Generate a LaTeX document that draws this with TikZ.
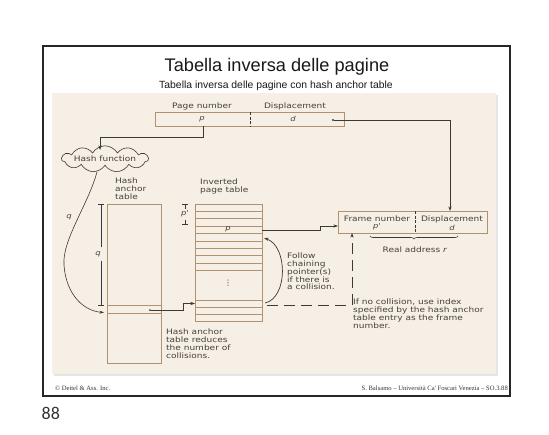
\documentclass[tikz,border=0pt]{standalone}
\usepackage{fontspec}
\setmainfont{Liberation Sans}
\newfontfamily\dg[FakeStretch=1.2]{DejaVu Sans}
\newfontfamily\ftr{Liberation Serif}
\newfontfamily\crl{Carlito}
\usetikzlibrary{shapes.symbols,decorations.pathreplacing,arrows.meta}
\definecolor{panel}{HTML}{F6EFE5}
\definecolor{tanc}{HTML}{B0926F}
\definecolor{dk}{HTML}{3E3934}
\definecolor{txt}{HTML}{45403B}
\begin{document}
\begin{tikzpicture}[x=1pt,y=-1pt,
  tanbox/.style={draw=tanc, line width=1pt, inner sep=0pt},
  tanline/.style={draw=tanc, line width=0.9pt},
  dline/.style={draw=dk, line width=0.6pt},
  arr/.style={dline, -{Stealth[length=4.5pt,width=3pt]}},
  lbl/.style={font=\dg\fontsize{7.5}{8}\selectfont, text=txt, inner sep=0pt},
  mlbl/.style={lbl, align=left, anchor=north west},
  var/.style={font=\dg\itshape\fontsize{7}{8}\selectfont, text=txt, inner sep=0pt},
  foot/.style={font=\ftr\fontsize{6.6}{8}\selectfont, text=black!80, inner sep=0pt},
]
\useasboundingbox (0,0) rectangle (549,434);
\fill[white] (0,0) rectangle (549,434);
% slide frame and panel
\draw[line width=1.4pt, draw=black!85] (43,46) rectangle (510,396);
\fill[black!10] (54,95) rectangle (498,376);
\fill[panel] (52,93) rectangle (496,374);
% titles
\node[font=\fontsize{18.2}{20}\selectfont, text=black!90, inner sep=0pt] (title) at (277,67) {Tabella inversa delle pagine};
\node[font=\fontsize{10.4}{12}\selectfont, text=black!90, inner sep=0pt] (sub) at (276,86) {Tabella inversa delle pagine con hash anchor table};
% virtual address box
\node[tanbox, minimum width=189pt, minimum height=14pt] (addr) at (249.5,119) {};
\draw[dline, dash pattern=on 3pt off 1.5pt] (250,112) -- (250,126);
\node[lbl] (pn) at (202,106) {Page number};
\node[lbl] (dp) at (295,106) {Displacement};
\node[var] (pv) at (202,119) {p};
\node[var] (dv) at (293,119) {d};
\node[circle, fill=dk, inner sep=0pt, minimum size=2.4pt] (dot) at (333,120) {};
% frame box
\node[tanbox, minimum width=149pt, minimum height=22pt] (fr) at (412.5,222) {};
\draw[dline, dash pattern=on 3pt off 1.5pt] (415,211) -- (415,233);
\node[lbl] (fn) at (377,219) {Frame number};
\node[var] (fp) at (377,227) {p'};
\node[lbl] (fd) at (452,219) {Displacement};
\node[var] (fdv) at (452,227.5) {d};
\coordinate (frin) at (450,211);
\draw[arr] (dot) -| (frin);
\coordinate (b1) at (370,236);
\coordinate (b2) at (458,236);
\draw[dk, line width=0.6pt, decorate, decoration={brace, mirror, amplitude=3pt}] (b1) -- (b2);
\node[lbl] (ra) at (415,250) {Real address \textit{r}};
% hash function
\node[cloud, cloud puffs=11, cloud puff arc=120, aspect=7, draw=dk, line width=0.6pt, inner xsep=0pt, inner ysep=0pt, lbl] (hf) at (105,159) {Hash function};
\coordinate (pb) at (203,126);
\coordinate (hft) at (100,150);
\draw[arr] (pb) -- (203,137) -| (hft);
% hash anchor table
\node[tanbox, minimum width=54pt, minimum height=159pt] (hat) at (134,283.5) {};
\draw[tanline] (107,305) -- (161,305);
\draw[tanline] (107,313) -- (161,313);
\node[mlbl] (hatl) at (115,177.5) {Hash\\anchor\\table};
% q dimension
\draw[dline] (101,204) -- (101,247);
\draw[dline] (101,261) -- (101,305);
\draw[dline] (98,204) -- (104,204);
\draw[dline] (98,305) -- (104,305);
\node[var] (q2) at (98,254) {q};
\node[var] (q1) at (69,217) {q};
\coordinate (hfb) at (97,172);
\coordinate (hate) at (104,312.5);
\draw[arr] (hfb) .. controls (88,205) and (62,240) .. (64,265) .. controls (66,295) and (84,311) .. (hate);
% inverted page table
\node[tanbox, minimum width=67pt, minimum height=117pt] (ipt) at (228.5,262.5) {};
\foreach \yy in {211.4,218.8,226.2,233.6,241,248.4,255.8,263.2,270.6,300,307,314}
  \draw[tanline] (195,\yy) -- (262,\yy);
\node[mlbl] (iptl) at (200,178.5) {Inverted\\page table};
\node[var] (ppv) at (228,229.5) {p};
\node[lbl] (vd) at (228,283) {⋮};
% p' dimension
\draw[dline] (182,204) -- (188,204);
\draw[dline] (185,204) -- (185,209);
\draw[dline] (185,219.5) -- (185,224);
\draw[dline] (182,224) -- (188,224);
\node[var] (ppr) at (185,214) {p'};
% p row to frame number
\coordinate (prow) at (262,230);
\coordinate (frl) at (338,226);
\draw[arr] (prow) -- (320,230) -- (320,226) -- (frl);
% hash anchor entry to inverted table entry
\node[circle, fill=dk, inner sep=0pt, minimum size=2pt] (hdot) at (150,310) {};
\coordinate (iptin) at (195,303.5);
\draw[arr] (hdot) -- (183,310) -- (183,303.5) -- (iptin);
% chaining curve
\coordinate (ch1) at (265,303);
\coordinate (ch2) at (264,238);
\draw[arr, line width=0.7pt] (ch1) .. controls (288,298) and (288,246) .. (ch2);
% dashed no-collision path
\coordinate (ds) at (267,305);
\coordinate (fbot) at (352,233);
\draw[arr, dash pattern=on 11pt off 6pt] (ds) -- (352,305) -- (fbot);
% texts
\node[mlbl, font=\dg\fontsize{7.5}{7.7}\selectfont] (fol) at (287,253) {Follow\\chaining\\pointer(s)\\if there is\\a collision.};
\node[mlbl] (nocol) at (353,299) {If no collision, use index\\specified by the hash anchor\\table entry as the frame\\number.};
\node[mlbl] (red) at (166,329) {Hash anchor\\table reduces\\the number of\\collisions.};
% footer
\node[foot, anchor=west] (f1) at (55,388) {© Deitel \& Ass. Inc.};
\node[foot, anchor=east] (f2) at (508,388) {S. Balsamo – Università Ca' Foscari Venezia – SO.3.88};
\node[font=\crl\fontsize{18}{20}\selectfont, text=black!80, inner sep=0pt, anchor=west] (pg) at (41.5,413) {88};
\end{tikzpicture}
\end{document}
